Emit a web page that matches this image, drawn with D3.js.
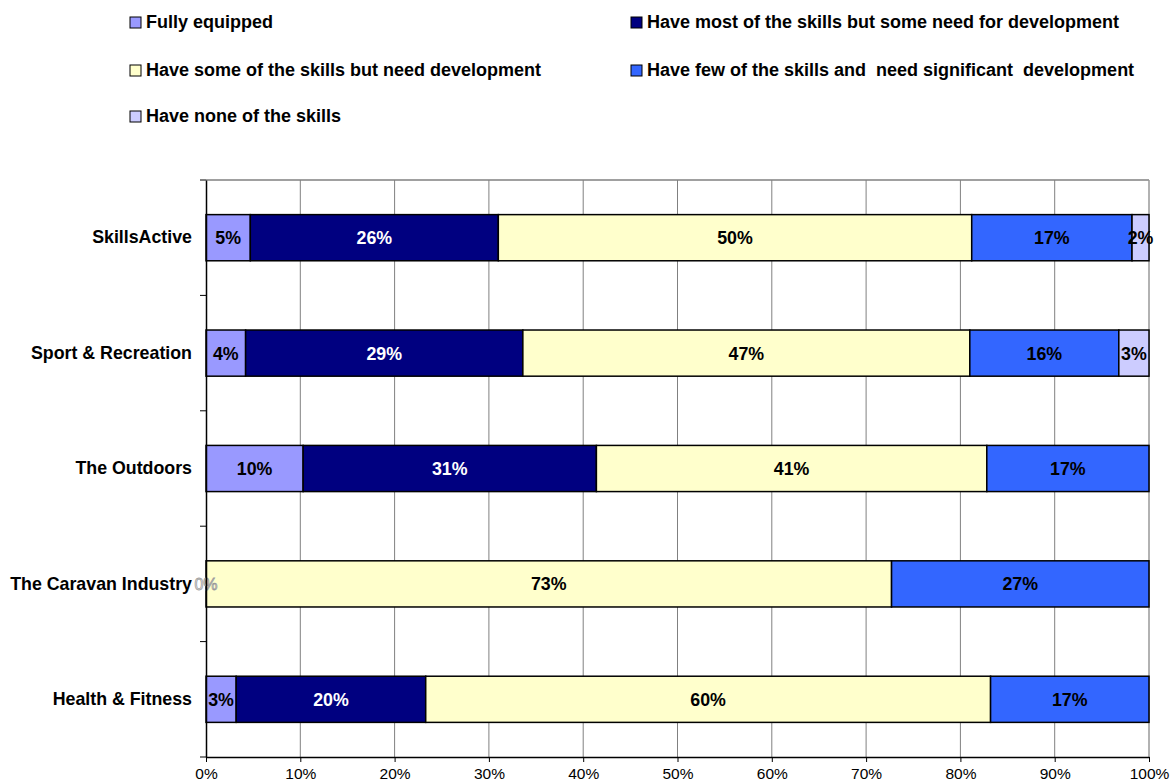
<!DOCTYPE html>
<html>
<head>
<meta charset="utf-8">
<script src="https://cdn.jsdelivr.net/npm/d3@7"></script>
<style>
  body { margin: 0; background: #fff; }
  text { font-family: "Liberation Sans", Arial, sans-serif; }
</style>
</head>
<body>
<script>
// Data
const categories = ["SkillsActive", "Sport & Recreation", "The Outdoors", "The Caravan Industry", "Health & Fitness"];
const seriesNames = [
  "Fully equipped",
  "Have most of the skills but some need for development",
  "Have some of the skills but need development",
  "Have few of the skills and  need significant  development",
  "Have none of the skills"
];
const fullyEquipped = [4.7, 4.2, 10.3, 0, 3.2];
const mostSkills    = [26.3, 29.4, 31.1, 0, 20.1];
const someSkills    = [50.2, 47.4, 41.4, 72.7, 59.9];
const fewSkills     = [17.0, 15.8, 17.2, 27.3, 16.8];
const noSkills      = [1.8, 3.2, 0, 0, 0];
const xTicks = [0, 10, 20, 30, 40, 50, 60, 70, 80, 90, 100];

const colors = ["#9999FF", "#000080", "#FFFFCC", "#3366FF", "#CCCCFF"];
const labelColors = ["#000", "#fff", "#000", "#000", "#000"];

const w = 1170, h = 784;
const pLeft = 206, pRight = 1149, pTop = 180, pBottom = 757;

const series = [fullyEquipped, mostSkills, someSkills, fewSkills, noSkills];

const svg = d3.select("body").append("svg")
  .attr("width", w)
  .attr("height", h);

// Scales
const xScale = d3.scaleLinear().domain([0, 100]).range([pLeft, pRight]);
const yScale = d3.scaleBand().domain(categories).range([pTop, pBottom]).paddingInner(0.6).paddingOuter(0.3);
const yBand = d3.scaleBand().domain(categories).range([pTop, pBottom]);

// Gridlines
svg.append("g")
  .selectAll("line")
  .data(xTicks.slice(1, -1))
  .enter().append("line")
  .attr("x1", d => xScale(d)).attr("x2", d => xScale(d))
  .attr("y1", pTop).attr("y2", pBottom)
  .attr("stroke", "#808080").attr("stroke-width", 1);

// plot-area border (top, right)
svg.append("line")
  .attr("x1", pLeft).attr("x2", pRight)
  .attr("y1", pTop).attr("y2", pTop)
  .attr("stroke", "#808080").attr("stroke-width", 1.5);
svg.append("line")
  .attr("x1", pRight).attr("x2", pRight)
  .attr("y1", pTop).attr("y2", pBottom)
  .attr("stroke", "#999").attr("stroke-width", 1.5);

// Stacked data
const stacked = categories.map((c, i) => {
  let acc = 0;
  return series.map((s, j) => {
    const x0 = acc;
    acc += s[i];
    return { cat: c, j: j, x0: x0, x1: acc, v: s[i] };
  });
});

// Bars
const rows = svg.append("g").selectAll("g")
  .data(stacked)
  .enter().append("g");

rows.selectAll("rect")
  .data(d => d.filter(s => s.v > 0))
  .enter().append("rect")
  .attr("x", d => xScale(d.x0))
  .attr("y", d => yScale(d.cat))
  .attr("width", d => xScale(d.x1) - xScale(d.x0))
  .attr("height", yScale.bandwidth())
  .attr("fill", d => colors[d.j])
  .attr("stroke", "#000")
  .attr("stroke-width", 1.5);

// Bar labels (a zero first segment still gets its hollow "0%" label)
rows.selectAll("text")
  .data(d => d.filter(s => s.v > 0 || s.j === 0))
  .enter().append("text")
  .attr("x", d => xScale((d.x0 + d.x1) / 2))
  .attr("y", d => yScale(d.cat) + yScale.bandwidth() / 2)
  .attr("dy", "0.36em")
  .attr("text-anchor", "middle")
  .attr("font-size", d => d.v > 0 ? 17.8 : 16)
  .attr("font-weight", d => d.v > 0 ? "bold" : "normal")
  .attr("fill", d => d.v > 0 ? labelColors[d.j] : "#fff")
  .attr("stroke", d => d.v > 0 ? "none" : "#999")
  .attr("stroke-width", 0.8)
  .text(d => Math.round(d.v) + "%");

// Y axis
const yAxis = d3.axisLeft(yBand).tickSize(0).tickPadding(14);
const yg = svg.append("g")
  .attr("transform", "translate(" + pLeft + ",0)")
  .call(yAxis);
yg.select(".domain").attr("stroke", "#000").attr("stroke-width", 1.5);
yg.selectAll("text")
  .attr("font-size", 17.8)
  .attr("font-weight", "bold")
  .attr("fill", "#000")
  .style("font-family", "'Liberation Sans', Arial, sans-serif");

// category boundary ticks
svg.append("g")
  .selectAll("line")
  .data(categories)
  .enter().append("line")
  .attr("x1", pLeft - 6).attr("x2", pLeft)
  .attr("y1", d => yBand(d)).attr("y2", d => yBand(d))
  .attr("stroke", "#000").attr("stroke-width", 1);

// X axis
const xAxis = d3.axisBottom(xScale).tickValues(xTicks).tickFormat(d => d + "%").tickSize(5).tickSizeOuter(0).tickPadding(6);
const xg = svg.append("g")
  .attr("transform", "translate(0," + pBottom + ")")
  .call(xAxis);
xg.select(".domain").attr("stroke", "#000").attr("stroke-width", 1.5);
xg.selectAll(".tick line").attr("stroke", "#000");
xg.selectAll("text")
  .attr("font-size", 15.5)
  .attr("fill", "#000")
  .style("font-family", "'Liberation Sans', Arial, sans-serif");
svg.append("line")
  .attr("x1", pLeft - 6).attr("x2", pLeft)
  .attr("y1", pBottom).attr("y2", pBottom)
  .attr("stroke", "#000");

// Legend
const legendPos = [[130, 22], [631, 22], [130, 70], [631, 70], [130, 116]];
const legend = svg.append("g").selectAll("g")
  .data(seriesNames)
  .enter().append("g")
  .attr("transform", (d, i) => "translate(" + legendPos[i][0] + "," + legendPos[i][1] + ")");
legend.append("rect")
  .attr("x", 0).attr("y", -5)
  .attr("width", 11).attr("height", 11)
  .attr("fill", (d, i) => colors[i])
  .attr("stroke", "#000").attr("stroke-width", 1);
legend.append("text")
  .attr("x", 16).attr("y", 0)
  .attr("dy", "0.36em")
  .attr("font-size", 18)
  .attr("font-weight", "bold")
  .attr("fill", "#000")
  .style("white-space", "pre")
  .text(d => d);
</script>
</body>
</html>
